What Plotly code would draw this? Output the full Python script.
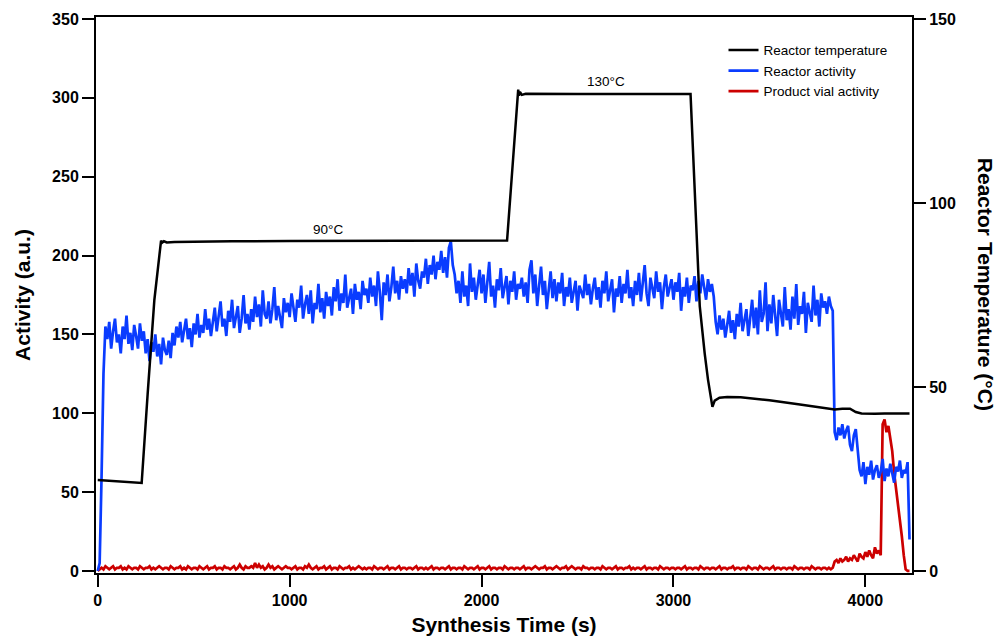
import plotly.graph_objects as go

# ── Data ──────────────────────────────────────────────────────────────────────
# Activity traces are sampled every 10 s starting at t = 0
SAMPLE_STEP = 10

REACTOR_ACTIVITY = [
    0, 5, 60, 125, 155, 147, 158, 141, 152, 160, 145, 150, 138, 155, 147, 162, 144, 151, 140, 156,
    149, 141, 157, 146, 152, 138, 147, 133, 145, 139, 150, 136, 144, 131, 148, 140, 137, 146, 135, 151,
    143, 155, 148, 158, 145, 152, 160, 147, 154, 142, 157, 150, 163, 148, 156, 151, 166, 153, 160, 149,
    158, 167, 152, 163, 171, 155, 160, 149, 165, 158, 172, 154, 162, 168, 151, 160, 175, 157, 163, 153,
    166, 158, 174, 161, 169, 155, 178, 163, 160, 171, 157, 166, 180, 159, 168, 162, 154, 173, 164, 170,
    161, 176, 165, 158, 172, 167, 181, 160, 169, 175, 163, 178, 157, 170, 166, 182, 164, 173, 160, 177,
    168, 174, 162, 180, 171, 185, 165, 176, 170, 188, 167, 174, 179, 163, 182, 172, 177, 166, 184, 175,
    179, 170, 186, 174, 181, 168, 190, 177, 159, 183, 175, 188, 171, 180, 193, 176, 184, 172, 187, 179,
    185, 176, 192, 181, 189, 174, 195, 184, 179, 190, 186, 198, 182, 194, 188, 200, 185, 196, 191, 203,
    189, 199, 186, 205, 209, 194, 188, 176, 184, 170, 190, 174, 181, 168, 195, 177, 186, 172, 182, 191,
    176, 188, 170, 183, 196, 174, 181, 167, 185, 178, 192, 173, 180, 187, 169, 184, 177, 190, 172, 182,
    179, 186, 174, 183, 170, 191, 197, 176, 188, 168, 181, 193, 175, 184, 166, 179, 190, 173, 185, 171,
    183, 176, 189, 168, 180, 174, 186, 170, 178, 184, 165, 181, 177, 173, 188, 175, 182, 169, 179, 186,
    172, 180, 167, 184, 176, 190, 171, 178, 185, 164, 179, 174, 187, 170, 182, 176, 191, 173, 180, 168,
    184, 175, 189, 171, 181, 194, 176, 168, 186, 179, 173, 190, 177, 183, 166, 180, 188, 174, 179, 185,
    172, 183, 177, 189, 165, 180, 174, 186, 170, 181, 178, 187, 171, 184, 176, 188, 180, 172, 185, 177,
    182, 174, 158, 150, 162, 153, 160, 148, 156, 165, 151, 159, 147, 163, 155, 170, 152, 158, 166, 149,
    160, 172, 154, 167, 150, 178, 158, 163, 183, 152, 169, 157, 175, 161, 149, 172, 164, 155, 180, 159,
    166, 153, 174, 160, 182, 156, 168, 163, 177, 151, 170, 165, 158, 181, 162, 172, 155, 176, 167, 171,
    163, 174, 168, 165, 88, 83, 91, 86, 93, 84, 89, 92, 80, 76, 86, 90, 78, 64, 60, 69,
    55, 66, 61, 70, 58, 64, 67, 59, 63, 71, 57, 65, 60, 68, 62, 56, 66, 63, 70, 59,
    64, 62, 69, 20,
]

VIAL_ACTIVITY = [
    0, 1, 2, 1, 3, 2, 1, 2, 3, 1, 2, 2, 3, 1, 2, 1, 3, 2, 1, 2,
    2, 1, 3, 2, 1, 2, 2, 3, 1, 2, 1, 2, 3, 2, 1, 2, 2, 1, 3, 2,
    1, 2, 2, 3, 1, 2, 1, 3, 2, 1, 2, 2, 1, 3, 2, 1, 2, 3, 1, 2,
    2, 3, 1, 2, 2, 1, 3, 2, 2, 1, 2, 3, 1, 2, 4, 2, 1, 3, 2, 2,
    3, 2, 5, 2, 4, 2, 3, 1, 2, 4, 2, 3, 1, 2, 3, 2, 1, 2, 3, 2,
    2, 1, 2, 3, 1, 2, 2, 1, 3, 2, 4, 2, 1, 2, 3, 1, 2, 2, 3, 1,
    2, 3, 1, 2, 2, 1, 3, 2, 1, 2, 2, 3, 1, 2, 1, 2, 3, 2, 1, 2,
    1, 2, 2, 1, 3, 2, 1, 2, 2, 1, 2, 3, 1, 2, 2, 1, 2, 3, 1, 2,
    2, 1, 2, 2, 1, 2, 3, 1, 2, 2, 1, 2, 1, 2, 3, 1, 2, 2, 1, 2,
    2, 1, 2, 3, 1, 2, 2, 1, 2, 2, 1, 3, 2, 1, 2, 2, 1, 2, 3, 1,
    2, 2, 1, 2, 3, 1, 2, 2, 1, 2, 2, 1, 3, 2, 1, 2, 2, 1, 2, 2,
    1, 2, 3, 1, 2, 2, 1, 2, 3, 2, 1, 2, 2, 3, 1, 2, 2, 1, 2, 3,
    2, 1, 2, 2, 3, 1, 2, 3, 2, 1, 2, 2, 1, 3, 2, 2, 1, 2, 2, 1,
    2, 2, 1, 3, 2, 1, 2, 2, 1, 2, 3, 1, 2, 2, 1, 2, 2, 3, 1, 2,
    1, 2, 2, 1, 2, 3, 1, 2, 2, 1, 2, 2, 1, 3, 2, 1, 2, 2, 1, 2,
    2, 1, 2, 2, 1, 2, 3, 1, 2, 2, 1, 2, 2, 1, 3, 2, 1, 2, 2, 1,
    2, 2, 1, 2, 3, 1, 2, 2, 1, 2, 2, 3, 1, 2, 2, 1, 2, 2, 1, 3,
    2, 1, 2, 2, 1, 3, 2, 1, 2, 2, 1, 2, 3, 1, 2, 2, 1, 2, 2, 1,
    2, 2, 1, 3, 2, 1, 2, 2, 1, 2, 2, 1, 3, 2, 1, 2, 2, 1, 2, 2,
    1, 2, 1, 2, 6, 7, 5, 8, 6, 7, 9, 6, 8, 7, 10, 8, 6, 11, 9, 8,
    12, 9, 13, 10, 8, 15, 11, 13, 10, 93, 96, 88, 92, 84, 76, 62, 52, 45, 34, 22,
    10, 1, 0, 0,
]

# Reactor temperature (°C, right axis) at irregular times
TEMP_TIME = [0, 100, 200, 229, 260, 295, 330, 335, 345, 360, 400, 500, 700, 1000, 1500,
             2000, 2133, 2191, 2195, 2200, 2210, 2230, 2500, 3089, 3110, 3137, 3163, 3180,
             3203, 3215, 3240, 3280, 3350, 3500, 3650, 3800, 3840, 3880, 3920, 3950, 3980,
             4050, 4100, 4230]
TEMP_VALUES = [24.7, 24.4, 24.0, 23.9, 48.0, 73.6, 89.8, 89.2, 89.6, 89.3, 89.4, 89.5, 89.6,
               89.7, 89.7, 89.8, 89.8, 130.8, 129.2, 130.2, 129.4, 129.7, 129.6, 129.6, 104.0,
               72.0, 59.0, 52.0, 44.6, 46.3, 47.1, 47.3, 47.2, 46.4, 45.3, 44.2, 43.9, 44.1,
               44.1, 43.2, 42.8, 42.7, 42.8, 42.8]

ACT_TIME = [SAMPLE_STEP * i for i in range(len(REACTOR_ACTIVITY))]
VIAL_TIME = [SAMPLE_STEP * i for i in range(len(VIAL_ACTIVITY))]

X_TICKS = [0, 1000, 2000, 3000, 4000]
Y_TICKS = [0, 50, 100, 150, 200, 250, 300, 350]
Y2_TICKS = [0, 50, 100, 150]

# ── Styling ───────────────────────────────────────────────────────────────────
FONT = "Arial, 'Liberation Sans', sans-serif"
BLACK, BLUE, RED = "#000000", "#0a3cff", "#cc0000"
Y_RANGE = [-1.3, 351.3]
Y2_RANGE = [v * 150 / 350 for v in Y_RANGE]

fig = go.Figure()

fig.add_trace(go.Scatter(
    x=VIAL_TIME, y=VIAL_ACTIVITY, mode="lines", name="Product vial activity",
    line=dict(color=RED, width=2.7), legendrank=3,
))
fig.add_trace(go.Scatter(
    x=ACT_TIME, y=REACTOR_ACTIVITY, mode="lines", name="Reactor activity",
    line=dict(color=BLUE, width=2.7), legendrank=2,
))
fig.add_trace(go.Scatter(
    x=TEMP_TIME, y=TEMP_VALUES, mode="lines", name="Reactor temperature",
    line=dict(color=BLACK, width=2.5), yaxis="y2", legendrank=1,
))

axis_common = dict(
    showgrid=False, zeroline=False, showline=True, linecolor=BLACK, linewidth=2,
    ticks="outside", ticklen=12, tickwidth=2, tickcolor=BLACK, automargin=False,
    tickfont=dict(family=FONT, size=16, color=BLACK, weight="bold"),
)

fig.add_annotation(x=1199, y=92.9, xref="x", yref="y2", text="90°C", showarrow=False,
                   font=dict(family=FONT, size=13.5, color=BLACK))
fig.add_annotation(x=2647, y=132.9, xref="x", yref="y2", text="130°C", showarrow=False,
                   font=dict(family=FONT, size=13.5, color=BLACK))
fig.add_annotation(x=1.0895, y=0.52, xref="paper", yref="paper", textangle=90,
                   xanchor="center", yanchor="middle",
                   text="Reactor Temperature (°C)", showarrow=False,
                   font=dict(family=FONT, size=21, color=BLACK, weight="bold"))

fig.update_layout(
    width=997, height=637,
    margin=dict(l=96, r=85, t=17, b=64, autoexpand=False),
    plot_bgcolor="white", paper_bgcolor="white",
    font=dict(family=FONT, color=BLACK),
    xaxis=dict(
        **axis_common, range=[-9, 4243], tickvals=X_TICKS, mirror=True,
        title=dict(text="Synthesis Time (s)", standoff=9,
                   font=dict(family=FONT, size=21, color=BLACK, weight="bold")),
    ),
    yaxis=dict(
        **axis_common, range=Y_RANGE, tickvals=Y_TICKS,
        title=dict(text="Activity (a.u.)", standoff=16,
                   font=dict(family=FONT, size=21, color=BLACK, weight="bold")),
    ),
    yaxis2=dict(
        **axis_common, range=Y2_RANGE, tickvals=Y2_TICKS,
        overlaying="y", side="right",
    ),
    legend=dict(
        x=0.769, y=0.968, xanchor="left", yanchor="top",
        bgcolor="rgba(0,0,0,0)", font=dict(family=FONT, size=13.5, color=BLACK),
        tracegroupgap=0,
    ),
    showlegend=True,
)

# drop the browser's default body margin so the figure sits at the page origin
fig.write_html("out.html", config={"displayModeBar": False},
               post_script="document.body.style.margin = '0';")
